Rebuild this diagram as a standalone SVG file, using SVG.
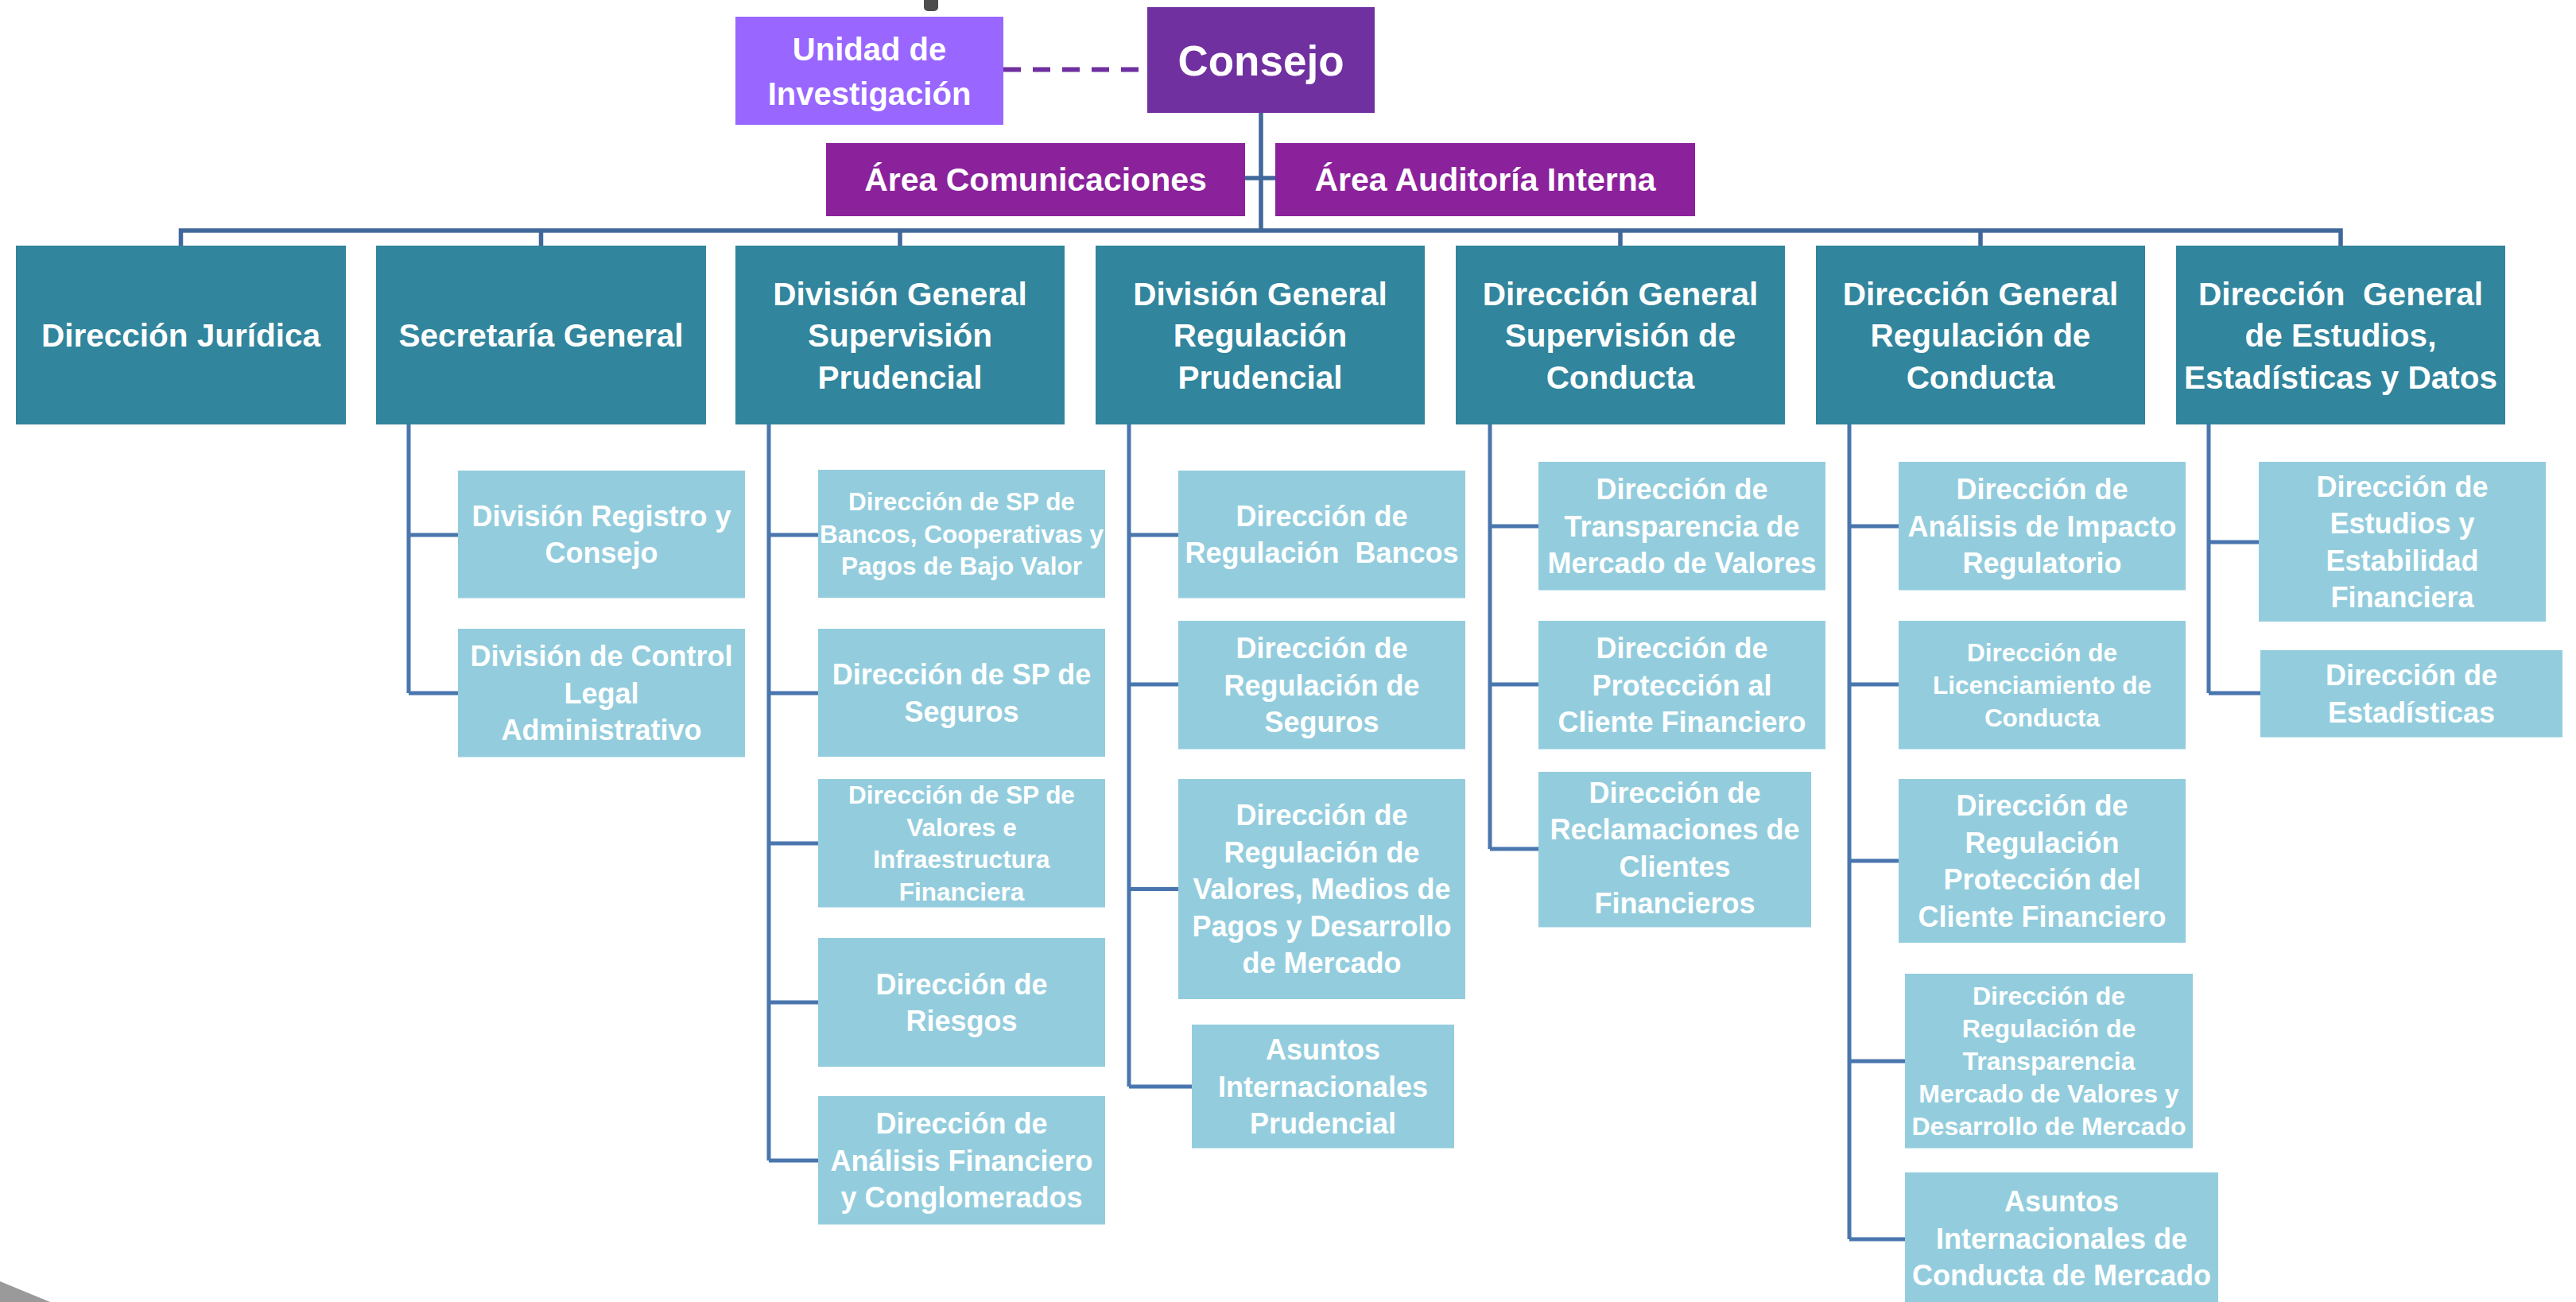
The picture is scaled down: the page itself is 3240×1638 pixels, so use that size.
<svg xmlns="http://www.w3.org/2000/svg" width="3240" height="1638" viewBox="0 0 3240 1638">
<style>
text{font-family:"Liberation Sans",Arial,sans-serif;font-weight:bold;fill:#fff;text-anchor:middle;white-space:pre}
.top{font-size:40.5px}
.mid{font-size:36px}
.sm{font-size:31.5px}
.sm2{font-size:32px}
.teal{fill:#31859C}
.light{fill:#93CDDD}
.bus{stroke:#41689A;stroke-width:5.5;fill:none}
.ln{stroke:#4A76AE;stroke-width:5;fill:none}
</style>
<rect width="3240" height="1638" fill="#fff"/>
<rect x="1162" y="-6" width="18" height="20" rx="5" fill="#4D4D4D"/>
<polygon points="0,1612 63,1638 0,1638" fill="#9A9A9A"/>
<g id="connectors">
<line x1="1262" y1="87.5" x2="1442" y2="87.5" stroke="#7030A0" stroke-width="6" stroke-dasharray="22,15"/>
<line class="bus" x1="1586" y1="142" x2="1586" y2="290"/>
<line class="bus" x1="1566" y1="224" x2="1604" y2="224"/>
<path class="bus" d="M227.5,309 V290 H2944 V309"/>
<path class="bus" d="M680.5,290 V309 M1132,290 V309 M2038,290 V309 M2491,290 V309"/>
<path class="ln" d="M514,534 V872 M514,673 H576 M514,872 H576"/>
<path class="ln" d="M967,534 V1460 M967,673 H1029 M967,872 H1029 M967,1061 H1029 M967,1261 H1029 M967,1460 H1029"/>
<path class="ln" d="M1420,534 V1367 M1420,673 H1482 M1420,861 H1482 M1420,1118.5 H1482 M1420,1367 H1499"/>
<path class="ln" d="M1874,534 V1068 M1874,662 H1935 M1874,861 H1935 M1874,1068 H1935"/>
<path class="ln" d="M2326,534 V1559 M2326,662 H2388 M2326,861 H2388 M2326,1083 H2388 M2326,1335 H2396 M2326,1559 H2396"/>
<path class="ln" d="M2778,534 V872 M2778,682 H2841 M2778,872 H2843"/>
</g>
<g id="unidad"><rect x="925" y="21" width="337" height="136" fill="#9966FF"/><text x="1093.5" y="75.5" font-size="40">Unidad de</text><text x="1093.5" y="131.5" font-size="40">Investigación</text></g>
<g id="consejo"><rect x="1443" y="9" width="286" height="133" fill="#7030A0"/><text x="1586" y="94.5" font-size="53">Consejo</text></g>
<g id="comunicaciones"><rect x="1039" y="180" width="527" height="92" fill="#8B229B"/><text x="1302.5" y="239.5" font-size="41">Área Comunicaciones</text></g>
<g id="auditoria"><rect x="1604" y="180" width="528" height="92" fill="#8B229B"/><text x="1868" y="239.5" font-size="41">Área Auditoría Interna</text></g>

<g id="juridica"><rect class="teal" x="20" y="309" width="415" height="225"/><text class="top" x="227.5" y="436">Dirección Jurídica</text></g>
<g id="secretaria"><rect class="teal" x="473" y="309" width="415" height="225"/><text class="top" x="680.5" y="436">Secretaría General</text></g>
<g id="dgsp"><rect class="teal" x="925" y="309" width="414" height="225"/><text class="top" x="1132" y="383.5">División General</text><text class="top" x="1132" y="436">Supervisión</text><text class="top" x="1132" y="488.5">Prudencial</text></g>
<g id="dgrp"><rect class="teal" x="1378" y="309" width="414" height="225"/><text class="top" x="1585" y="383.5">División General</text><text class="top" x="1585" y="436">Regulación</text><text class="top" x="1585" y="488.5">Prudencial</text></g>
<g id="dgsc"><rect class="teal" x="1831" y="309" width="414" height="225"/><text class="top" x="2038" y="383.5">Dirección General</text><text class="top" x="2038" y="436">Supervisión de</text><text class="top" x="2038" y="488.5">Conducta</text></g>
<g id="dgrc"><rect class="teal" x="2284" y="309" width="414" height="225"/><text class="top" x="2491" y="383.5">Dirección General</text><text class="top" x="2491" y="436">Regulación de</text><text class="top" x="2491" y="488.5">Conducta</text></g>
<g id="dgeed"><rect class="teal" x="2737" y="309" width="414" height="225"/><text class="top" x="2944" y="383.5">Dirección  General</text><text class="top" x="2944" y="436">de Estudios,</text><text class="top" x="2944" y="488.5">Estadísticas y Datos</text></g>

<g id="sg1"><rect class="light" x="576" y="592" width="361" height="160.5"/><text class="mid" x="756.5" y="661.9">División Registro y</text><text class="mid" x="756.5" y="708.4">Consejo</text></g>
<g id="sg2"><rect class="light" x="576" y="791" width="361" height="161.5"/><text class="mid" x="756.5" y="838.2">División de Control</text><text class="mid" x="756.5" y="884.7">Legal</text><text class="mid" x="756.5" y="931.2">Administrativo</text></g>

<g id="sp1"><rect class="light" x="1029" y="591" width="361" height="161"/><text class="sm" x="1209.5" y="642.3">Dirección de SP de</text><text class="sm" x="1209.5" y="682.8">Bancos, Cooperativas y</text><text class="sm" x="1209.5" y="723.3">Pagos de Bajo Valor</text></g>
<g id="sp2"><rect class="light" x="1029" y="791" width="361" height="161"/><text class="mid" x="1209.5" y="861.2">Dirección de SP de</text><text class="mid" x="1209.5" y="907.7">Seguros</text></g>
<g id="sp3"><rect class="light" x="1029" y="980" width="361" height="161.5"/><text class="sm" x="1209.5" y="1011.3">Dirección de SP de</text><text class="sm" x="1209.5" y="1051.8">Valores e</text><text class="sm" x="1209.5" y="1092.3">Infraestructura</text><text class="sm" x="1209.5" y="1132.8">Financiera</text></g>
<g id="sp4"><rect class="light" x="1029" y="1180" width="361" height="162"/><text class="mid" x="1209.5" y="1250.7">Dirección de</text><text class="mid" x="1209.5" y="1297.2">Riesgos</text></g>
<g id="sp5"><rect class="light" x="1029" y="1379" width="361" height="161.5"/><text class="mid" x="1209.5" y="1426.2">Dirección de</text><text class="mid" x="1209.5" y="1472.7">Análisis Financiero</text><text class="mid" x="1209.5" y="1519.2">y Conglomerados</text></g>

<g id="rp1"><rect class="light" x="1482" y="592" width="361" height="160.5"/><text class="mid" x="1662.5" y="661.9">Dirección de</text><text class="mid" x="1662.5" y="708.4" xml:space="preserve">Regulación  Bancos</text></g>
<g id="rp2"><rect class="light" x="1482" y="781" width="361" height="161.5"/><text class="mid" x="1662.5" y="828.2">Dirección de</text><text class="mid" x="1662.5" y="874.7">Regulación de</text><text class="mid" x="1662.5" y="921.2">Seguros</text></g>
<g id="rp3"><rect class="light" x="1482" y="980" width="361" height="277"/><text class="mid" x="1662.5" y="1038.3">Dirección de</text><text class="mid" x="1662.5" y="1084.8">Regulación de</text><text class="mid" x="1662.5" y="1131.3">Valores, Medios de</text><text class="mid" x="1662.5" y="1177.8">Pagos y Desarrollo</text><text class="mid" x="1662.5" y="1224.3">de Mercado</text></g>
<g id="rp4"><rect class="light" x="1499" y="1289" width="330" height="155.5"/><text class="mid" x="1664" y="1333.2">Asuntos</text><text class="mid" x="1664" y="1379.7">Internacionales</text><text class="mid" x="1664" y="1426.2">Prudencial</text></g>

<g id="sc1"><rect class="light" x="1935" y="581" width="361" height="161.5"/><text class="mid" x="2115.5" y="628.2">Dirección de</text><text class="mid" x="2115.5" y="674.7">Transparencia de</text><text class="mid" x="2115.5" y="721.2">Mercado de Valores</text></g>
<g id="sc2"><rect class="light" x="1935" y="781" width="361" height="161.5"/><text class="mid" x="2115.5" y="828.2">Dirección de</text><text class="mid" x="2115.5" y="874.7">Protección al</text><text class="mid" x="2115.5" y="921.2">Cliente Financiero</text></g>
<g id="sc3"><rect class="light" x="1935" y="971" width="343" height="195.5"/><text class="mid" x="2106.5" y="1009.5">Dirección de</text><text class="mid" x="2106.5" y="1056">Reclamaciones de</text><text class="mid" x="2106.5" y="1102.5">Clientes</text><text class="mid" x="2106.5" y="1149">Financieros</text></g>

<g id="rc1"><rect class="light" x="2388" y="581" width="361" height="161.5"/><text class="mid" x="2568.5" y="628.2">Dirección de</text><text class="mid" x="2568.5" y="674.7">Análisis de Impacto</text><text class="mid" x="2568.5" y="721.2">Regulatorio</text></g>
<g id="rc2"><rect class="light" x="2388" y="781" width="361" height="161.5"/><text class="sm" x="2568.5" y="832.1">Dirección de</text><text class="sm" x="2568.5" y="873.1">Licenciamiento de</text><text class="sm" x="2568.5" y="914.1">Conducta</text></g>
<g id="rc3"><rect class="light" x="2388" y="980" width="361" height="206"/><text class="mid" x="2568.5" y="1026.2">Dirección de</text><text class="mid" x="2568.5" y="1072.7">Regulación</text><text class="mid" x="2568.5" y="1119.2">Protección del</text><text class="mid" x="2568.5" y="1165.7">Cliente Financiero</text></g>
<g id="rc4"><rect class="light" x="2396" y="1225" width="362" height="219.5"/><text class="sm2" x="2577" y="1264.3">Dirección de</text><text class="sm2" x="2577" y="1305.3">Regulación de</text><text class="sm2" x="2577" y="1346.3">Transparencia</text><text class="sm2" x="2577" y="1387.3">Mercado de Valores y</text><text class="sm2" x="2577" y="1428.3">Desarrollo de Mercado</text></g>
<g id="rc5"><rect class="light" x="2396" y="1475" width="394" height="166"/><text class="mid" x="2593" y="1524.4">Asuntos</text><text class="mid" x="2593" y="1570.9">Internacionales de</text><text class="mid" x="2593" y="1617.4">Conducta de Mercado</text></g>

<g id="ee1"><rect class="light" x="2841" y="581" width="361" height="201"/><text class="mid" x="3021.5" y="624.7">Dirección de</text><text class="mid" x="3021.5" y="671.2">Estudios y</text><text class="mid" x="3021.5" y="717.7">Estabilidad</text><text class="mid" x="3021.5" y="764.2">Financiera</text></g>
<g id="ee2"><rect class="light" x="2843" y="818" width="380" height="109.5"/><text class="mid" x="3033" y="862.4">Dirección de</text><text class="mid" x="3033" y="908.9">Estadísticas</text></g>
</svg>
